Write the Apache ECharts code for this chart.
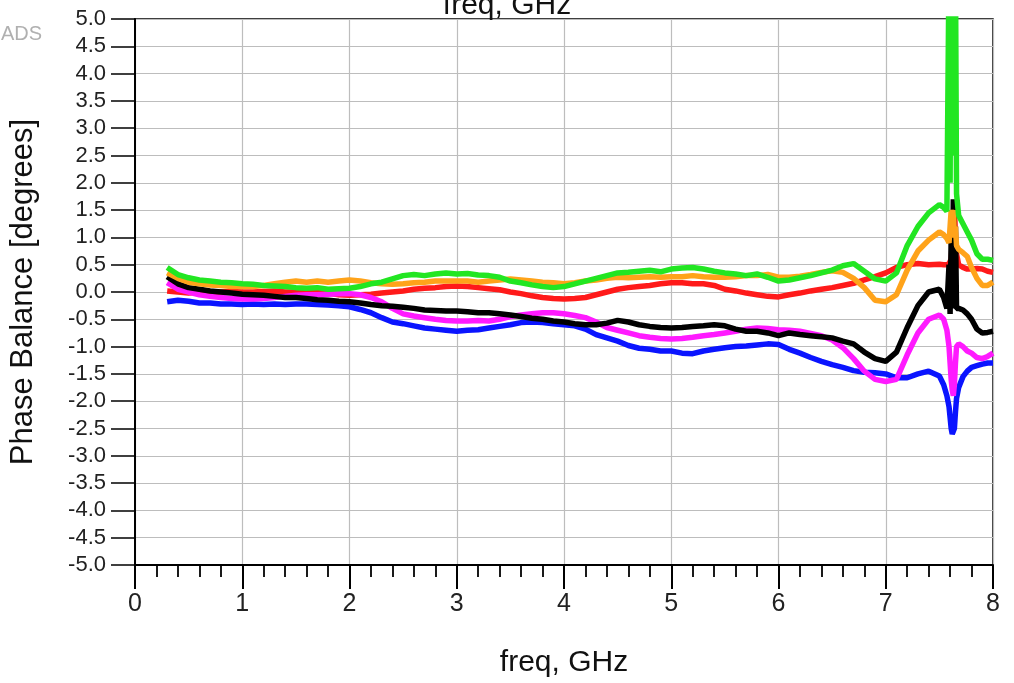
<!DOCTYPE html>
<html>
<head>
<meta charset="utf-8">
<script src="https://cdn.jsdelivr.net/npm/echarts@6/dist/echarts.min.js"></script>
<style>
  html, body { margin: 0; padding: 0; background: #fff; }
  #phaseChart { width: 1014px; height: 683px; }
</style>
</head>
<body>
<div id="phaseChart"></div>
<script>
// frequency points, GHz (0.3 .. 7.5 step 0.1, then a finer look at the resonance)
var freq = [0.3, 0.4, 0.5, 0.6, 0.7, 0.8, 0.9, 1.0,
    1.1, 1.2, 1.3, 1.4, 1.5, 1.6, 1.7, 1.8, 1.9, 2.0,
    2.1, 2.2, 2.3, 2.4, 2.5, 2.6, 2.7, 2.8, 2.9, 3.0,
    3.1, 3.2, 3.3, 3.4, 3.5, 3.6, 3.7, 3.8, 3.9, 4.0,
    4.1, 4.2, 4.3, 4.4, 4.5, 4.6, 4.7, 4.8, 4.9, 5.0,
    5.1, 5.2, 5.3, 5.4, 5.5, 5.6, 5.7, 5.8, 5.9, 6.0,
    6.1, 6.2, 6.3, 6.4, 6.5, 6.6, 6.7, 6.8, 6.9, 7.0,
    7.1, 7.2, 7.3, 7.4, 7.5,
    7.54, 7.57, 7.59, 7.60, 7.61, 7.62, 7.63, 7.64, 7.65, 7.66, 7.68, 7.72, 7.76, 7.8, 7.85, 7.9, 7.95, 8.0];

// phase balance, degrees
var redPhase = [0.02, 0.0, -0.02, 0.0, -0.02, 0.0, 0.01, 0.0,
    0.0, 0.01, 0.02, 0.0, 0.0, 0.02, 0.0, -0.02, -0.05, -0.06,
    -0.05, -0.04, -0.02, 0.0, 0.02, 0.05, 0.07, 0.08, 0.1, 0.11,
    0.1, 0.08, 0.06, 0.04, 0.0, -0.03, -0.07, -0.1, -0.12, -0.13,
    -0.12, -0.1, -0.05, 0.0, 0.05, 0.08, 0.1, 0.12, 0.15, 0.17,
    0.17, 0.15, 0.15, 0.12, 0.05, 0.02, -0.02, -0.05, -0.08, -0.09,
    -0.05, -0.02, 0.02, 0.05, 0.08, 0.12, 0.16, 0.22, 0.28, 0.35,
    0.45, 0.5, 0.52, 0.5, 0.51,
    0.5, 0.5, 0.52, 0.55, 0.6, 0.9, 1.4, 1.6, 1.0, 0.7, 0.5, 0.45, 0.42, 0.42, 0.43, 0.42, 0.38, 0.36];

var orangePhase = [0.35, 0.25, 0.18, 0.15, 0.13, 0.12, 0.1, 0.1,
    0.1, 0.12, 0.15, 0.18, 0.2, 0.18, 0.2, 0.18, 0.2, 0.22,
    0.2, 0.17, 0.15, 0.14, 0.15, 0.17, 0.18, 0.2, 0.2, 0.2,
    0.2, 0.18, 0.2, 0.22, 0.24, 0.22, 0.2, 0.18, 0.17, 0.15,
    0.17, 0.2, 0.22, 0.25, 0.27, 0.26, 0.27, 0.28, 0.27, 0.28,
    0.28, 0.3, 0.28, 0.27, 0.27, 0.28, 0.3, 0.3, 0.32, 0.27,
    0.27, 0.29, 0.32, 0.36, 0.39, 0.36, 0.25, 0.08, -0.15, -0.18,
    -0.05, 0.4, 0.75, 0.95, 1.1,
    1.05, 0.98, 0.9, 1.2, 1.5, 1.3, 1.5, 1.0, 1.2, 0.85, 0.78, 0.72, 0.65, 0.45, 0.25, 0.12, 0.12, 0.18];

var greenPhase = [0.45, 0.32, 0.26, 0.22, 0.2, 0.18, 0.17, 0.15,
    0.14, 0.12, 0.11, 0.1, 0.08, 0.07, 0.08, 0.05, 0.06, 0.07,
    0.1, 0.15, 0.18, 0.24, 0.3, 0.32, 0.3, 0.33, 0.35, 0.33,
    0.34, 0.31, 0.3, 0.27, 0.2, 0.17, 0.13, 0.1, 0.08, 0.1,
    0.15, 0.2, 0.25, 0.3, 0.35, 0.36, 0.38, 0.4, 0.37, 0.42,
    0.44, 0.45, 0.42, 0.38, 0.35, 0.33, 0.3, 0.33, 0.27, 0.2,
    0.22, 0.26, 0.3, 0.35, 0.4, 0.48, 0.52, 0.38, 0.24, 0.2,
    0.35, 0.85, 1.2, 1.45, 1.6,
    1.55, 1.48, 6, 2, 6, 2.5, 6, 3, 6, 1.8, 1.4, 1.25, 1.1, 0.95, 0.7, 0.6, 0.6, 0.58];

var magentaPhase = [0.17, 0.05, 0.0, -0.05, -0.08, -0.1, -0.12, -0.13,
    -0.13, -0.12, -0.1, -0.08, -0.06, -0.05, -0.05, -0.04, -0.03, -0.03,
    -0.05, -0.1, -0.18, -0.3, -0.4, -0.44, -0.47, -0.5, -0.52, -0.53,
    -0.53, -0.52, -0.53, -0.5, -0.45, -0.42, -0.4, -0.38, -0.38, -0.4,
    -0.43, -0.47, -0.55, -0.65, -0.7, -0.75, -0.8, -0.83, -0.85, -0.86,
    -0.85, -0.83, -0.8, -0.78, -0.75, -0.72, -0.68, -0.66, -0.67, -0.69,
    -0.7, -0.72, -0.76, -0.8, -0.88, -1.02, -1.22, -1.45, -1.6, -1.64,
    -1.6, -1.15, -0.75, -0.5, -0.42,
    -0.5, -0.7, -1.0, -1.3, -1.6, -1.8, -1.9, -1.7, -1.3, -1.0, -0.95, -1.0, -1.08, -1.12, -1.2, -1.22, -1.18, -1.12];

var blackPhase = [0.28, 0.15, 0.08, 0.05, 0.02, 0.0, -0.02, -0.04,
    -0.05, -0.06, -0.08, -0.1, -0.1, -0.12, -0.14, -0.15, -0.17, -0.18,
    -0.2, -0.23, -0.25, -0.26, -0.28, -0.3, -0.33, -0.34, -0.35, -0.35,
    -0.36, -0.38, -0.38, -0.4, -0.42, -0.45, -0.48, -0.5, -0.53, -0.55,
    -0.58, -0.6, -0.6, -0.57, -0.52, -0.55, -0.6, -0.63, -0.65, -0.66,
    -0.65, -0.63, -0.62, -0.6, -0.62, -0.68, -0.72, -0.72, -0.75, -0.8,
    -0.75, -0.78, -0.8, -0.82, -0.84, -0.9, -0.95, -1.1, -1.22, -1.27,
    -1.1, -0.65, -0.25, 0.0, 0.05,
    -0.1, -0.3, 0.5, -0.4, 1.0, -0.3, 1.7, -0.2, 1.2, -0.3, -0.3, -0.33, -0.4, -0.5, -0.68, -0.75, -0.74, -0.72];

var bluePhase = [-0.18, -0.15, -0.17, -0.2, -0.2, -0.22, -0.22, -0.23,
    -0.22, -0.23, -0.22, -0.23, -0.22, -0.22, -0.23, -0.24, -0.25, -0.27,
    -0.32, -0.38, -0.47, -0.55, -0.58, -0.62, -0.66, -0.68, -0.7, -0.72,
    -0.7, -0.69, -0.66, -0.63, -0.6, -0.56, -0.55, -0.56, -0.58, -0.6,
    -0.62, -0.68, -0.78, -0.84, -0.9, -0.98, -1.03, -1.05, -1.08, -1.08,
    -1.12, -1.13, -1.08, -1.05, -1.02, -1.0, -0.99, -0.97, -0.95, -0.96,
    -1.05, -1.12, -1.2, -1.27, -1.33, -1.38, -1.44, -1.47, -1.48, -1.5,
    -1.57, -1.57, -1.5, -1.45, -1.54,
    -1.7, -1.9, -2.1, -2.3, -2.5, -2.6, -2.62, -2.5, -2.2, -1.95, -1.75, -1.55, -1.45, -1.38, -1.35, -1.32, -1.3, -1.3];

function pairs(vals) {
    return freq.map(function (f, i) { return [f, vals[i]]; });
}

function trace(name, color, vals) {
    return {
        name: name,
        type: 'line',
        showSymbol: false,
        animation: false,
        lineStyle: { color: color, width: 5.5 },
        data: pairs(vals)
    };
}

var myChart = echarts.init(document.getElementById('phaseChart'));
var labelFont = 'Liberation Sans, Arial, sans-serif';

option = {
    backgroundColor: '#fff',
    title: {
        text: 'freq, GHz',
        left: 'center',
        top: -9,
        padding: 0,
        textStyle: { fontFamily: labelFont, fontSize: 30, fontWeight: 'normal', color: '#111' }
    },
    graphic: [{
        type: 'text',
        left: 1,
        top: 24,
        style: { text: 'ADS', fontFamily: labelFont, fontSize: 20, fill: '#b0b0b0' }
    }],
    grid: {
        left: 133, right: 21, top: 19, bottom: 118,
        show: true, borderColor: '#000', borderWidth: 1.5
    },
    xAxis: {
        type: 'value',
        min: 0, max: 8, interval: 1,
        name: 'freq, GHz',
        nameLocation: 'middle',
        nameGap: 83,
        nameTextStyle: { fontFamily: labelFont, fontSize: 30, color: '#111' },
        axisLine: { onZero: false, lineStyle: { color: '#000', width: 2 } },
        axisTick: { length: 24, lineStyle: { color: '#000', width: 2 } },
        minorTick: { show: true, splitNumber: 5, length: 12, lineStyle: { color: '#000', width: 1.8 } },
        axisLabel: { margin: 27, fontFamily: labelFont, fontSize: 25, color: '#222' },
        splitLine: { lineStyle: { color: '#bdbdbd', width: 1.2 } }
    },
    yAxis: {
        type: 'value',
        min: -5, max: 5, interval: 0.5,
        name: 'Phase Balance [degrees]',
        nameLocation: 'middle',
        nameGap: 96,
        nameTextStyle: { fontFamily: labelFont, fontSize: 31, color: '#111' },
        axisLine: { onZero: false, lineStyle: { color: '#000', width: 2 } },
        axisTick: { length: 24, lineStyle: { color: '#000', width: 1.5 } },
        axisLabel: {
            margin: 29,
            fontFamily: labelFont, fontSize: 22, color: '#222',
            formatter: function (v) { return v.toFixed(1); }
        },
        splitLine: { lineStyle: { color: '#bdbdbd', width: 1.2 } }
    },
    series: [
        trace('red', '#ff1a1a', redPhase),
        trace('blue', '#0a14ff', bluePhase),
        trace('magenta', '#ff1aff', magentaPhase),
        trace('black', '#000000', blackPhase),
        trace('orange', '#ffa31a', orangePhase),
        trace('green', '#22e622', greenPhase)
    ]
};
myChart.setOption(option);
</script>
</body>
</html>
